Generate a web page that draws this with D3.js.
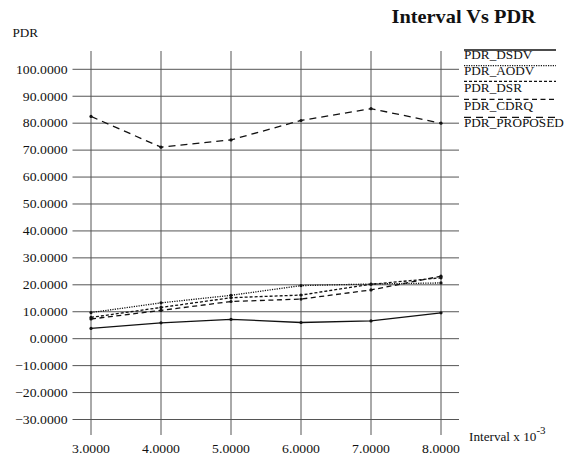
<!DOCTYPE html>
<html>
<head>
<meta charset="utf-8">
<script src="https://cdn.jsdelivr.net/npm/d3@7/dist/d3.min.js"></script>
<style>
  html, body { margin: 0; padding: 0; background: #fff; }
  svg { display: block; }
</style>
</head>
<body>
<svg id="chart" width="571" height="457"></svg>
<script>
// Interval (x 10^-3) on the x axis
const intervals = [3, 4, 5, 6, 7, 8];
const yTicks = [-30, -20, -10, 0, 10, 20, 30, 40, 50, 60, 70, 80, 90, 100];

// Packet delivery ratio per protocol
const pdrDSDV     = [3.8, 5.9, 7.2, 6.0, 6.6, 9.6];
const pdrAODV     = [9.7, 13.3, 16.1, 19.7, 20.3, 20.7];
const pdrDSR      = [7.9, 11.6, 15.2, 16.2, 20.2, 22.6];
const pdrCDRQ     = [7.3, 10.5, 13.8, 14.7, 18.1, 23.2];
const pdrPROPOSED = [82.5, 71.1, 73.8, 81.0, 85.4, 80.0];

const seriesNames = ["PDR_DSDV", "PDR_AODV", "PDR_DSR", "PDR_CDRQ", "PDR_PROPOSED"];
const seriesValues = [pdrDSDV, pdrAODV, pdrDSR, pdrCDRQ, pdrPROPOSED];
const dashes = [null, "1.2,1.2", "3,2", "5,3.5", "7,5"];

const FONT = "'Liberation Serif', 'DejaVu Serif', serif";
const svg = d3.select("#chart");
const sx = 1.1; // glyphs are drawn slightly wide

const x = d3.scaleLinear().domain([3, 8]).range([91, 441]);
const y = d3.scaleLinear().domain([-30, 100]).range([419.5, 69.3]);

function label(sel, tx, ty, str, size, anchor, weight) {
  const g = sel.append("g").attr("transform", `translate(${tx},${ty}) scale(${sx},1)`);
  return g.append("text")
    .attr("font-family", FONT)
    .attr("fill", "#111")
    .attr("font-size", size)
    .attr("text-anchor", anchor || "start")
    .attr("font-weight", weight || "normal")
    .text(str);
}

// grid
const grid = svg.append("g").attr("stroke", "#555").attr("stroke-width", 1).attr("fill", "none");
grid.selectAll("line.h").data(yTicks).enter().append("line")
  .attr("class", "h")
  .attr("x1", 72.5).attr("x2", 459)
  .attr("y1", d => y(d)).attr("y2", d => y(d));
grid.selectAll("line.v").data(intervals).enter().append("line")
  .attr("class", "v")
  .attr("x1", d => x(d)).attr("x2", d => x(d))
  .attr("y1", 51).attr("y2", 435);

// y tick labels
yTicks.forEach(v => {
  label(svg, 67.5, y(v) + 4.3, d3.format(".4f")(v), 12.5, "end");
});
// x tick labels
intervals.forEach(v => {
  label(svg, x(v), 453, d3.format(".4f")(v), 12.5, "middle");
});

// axis titles and chart title
label(svg, 12.5, 36.5, "PDR", 12, "start");
label(svg, 391.5, 23, "Interval Vs PDR", 18.5, "start", "bold");
const xt = label(svg, 469, 441, "Interval x 10", 12, "start");
xt.append("tspan").attr("font-size", 10).attr("dy", -7).text("-3");

// series
const line = d3.line().x((d, i) => x(intervals[i])).y(d => y(d));
seriesValues.forEach((vals, k) => {
  svg.append("path")
    .datum(vals)
    .attr("d", line)
    .attr("fill", "none")
    .attr("stroke", "#111")
    .attr("stroke-width", 1.3)
    .attr("stroke-dasharray", dashes[k]);
  svg.selectAll(null).data(vals).enter().append("circle")
    .attr("cx", (d, i) => x(intervals[i]))
    .attr("cy", d => y(d))
    .attr("r", 1.6)
    .attr("fill", "#111");
});

// legend
const legLineY = [50, 65.7, 81.3, 99.3, 117.3];
const legTextY = [59.3, 75.3, 91.5, 109.5, 126.8];
seriesNames.forEach((name, k) => {
  svg.append("line")
    .attr("x1", 464).attr("x2", 556)
    .attr("y1", legLineY[k]).attr("y2", legLineY[k])
    .attr("stroke", "#111")
    .attr("stroke-width", k === 0 ? 1.5 : 1.2)
    .attr("stroke-dasharray", dashes[k]);
  label(svg, 464, legTextY[k], name, 12, "start");
});
</script>
</body>
</html>
